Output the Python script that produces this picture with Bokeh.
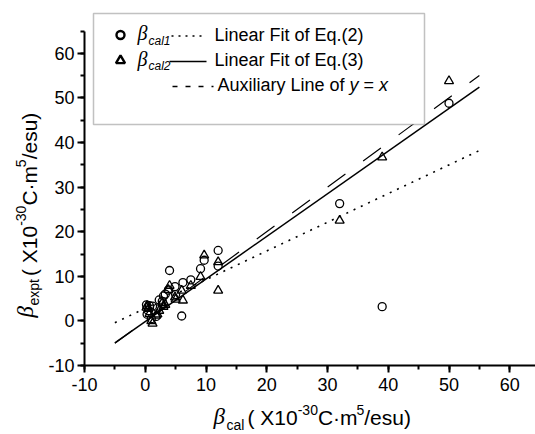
import math
from bokeh.plotting import figure
from bokeh.models import (Range1d, SingleIntervalTicker, Label, BoxAnnotation, Arrow,
                          CustomJSTickFormatter)
from bokeh.embed import file_html
from bokeh.resources import INLINE

# ---------------- data ----------------
x_vals = [50, 39, 32, 12, 12, 9.7, 9.1, 7.5, 6.2, 6.0, 5.0, 4.9, 4.0, 3.8,
          3.3, 3.0, 2.8, 2.3, 2.0, 1.8, 1.2, 1.0, 0.7, 0.5, 0.3, 0.2]
cal1_y = [48.8, 3.2, 26.3, 15.8, 12.3, 13.6, 11.7, 9.2, 8.6, 1.1, 5.9, 7.7, 11.3, 6.9,
          6.0, 5.6, 4.4, 4.7, 2.9, 1.0, 3.3, 0.5, 3.4, 2.3, 1.5, 3.6]
cal2_y = [53.8, 36.7, 22.5, 13.2, 6.8, 14.7, 9.9, 7.9, 4.6, 6.8, 4.8, 5.3, 7.9, 7.0,
          3.6, 3.2, 4.0, 2.3, 1.5, 1.2, -0.6, 0.0, 1.6, 2.7, 3.4, 3.0]
fit_x = [-5, 55]
fit2_y = [-0.4, 38.2]     # linear fit of Eq.(2)
fit3_y = [-4.95, 52.4]    # linear fit of Eq.(3)
aux_y = [-5, 55]          # y = x
axis_min = -10
y_axis_max = 65
x_tick_step = 10
y_tick_step = 10

# ---------------- layout constants (pixels) ----------------
W_PX, H_PX = 535, 434
X0_PX, XS = 84, 6.075     # pixel of x=-10, pixels per unit
Y0_PX, YS = 365, 4.46     # pixel of y=-10, pixels per unit

xr = Range1d(axis_min - X0_PX / XS, axis_min + (W_PX - X0_PX) / XS)
yr = Range1d(axis_min - (H_PX - Y0_PX) / YS, axis_min + Y0_PX / YS)

p = figure(width=W_PX, height=H_PX, output_backend="svg", toolbar_location=None,
           x_range=xr, y_range=yr, min_border=0)
p.outline_line_color = None
p.grid.visible = False
p.background_fill_color = "white"
p.border_fill_color = "white"

fmt = CustomJSTickFormatter(code="return tick.toFixed(0);")
for ax in (p.xaxis[0], p.yaxis[0]):
    ax.fixed_location = axis_min
    ax.axis_line_width = 2
    ax.major_tick_line_width = 2
    ax.minor_tick_line_width = 2
    ax.major_tick_out = 7
    ax.major_tick_in = 0
    ax.minor_tick_out = 4
    ax.minor_tick_in = 0
    ax.major_label_text_font = "Liberation Sans"
    ax.major_label_text_font_size = "18px"
    ax.major_label_text_color = "black"
    ax.axis_line_color = "black"
    ax.major_tick_line_color = "black"
    ax.minor_tick_line_color = "black"
    ax.formatter = fmt

p.xaxis.ticker = SingleIntervalTicker(interval=x_tick_step, num_minor_ticks=2)
p.yaxis.ticker = SingleIntervalTicker(interval=y_tick_step, num_minor_ticks=2)
p.xaxis.bounds = (axis_min, xr.end)
p.yaxis.bounds = (axis_min, y_axis_max)
p.xaxis.major_label_standoff = 5
p.yaxis.major_label_standoff = 3

# ---------------- lines & points ----------------
p.line(fit_x, aux_y, line_color="black", line_width=1.2, line_dash="22 22")
p.line(fit_x, fit2_y, line_color="black", line_width=1.6, line_dash="2 6")
p.line(fit_x, fit3_y, line_color="black", line_width=1.5)

p.scatter(x_vals, cal1_y, marker="circle", size=8, fill_color=None,
          line_color="black", line_width=1.3)
p.scatter(x_vals, cal2_y, marker="triangle", size=9, fill_color=None,
          line_color="black", line_width=1.3)


# ---------------- helpers for text placement ----------------
def sx(px):
    return px


def sy(py):
    return H_PX - py


def dx(px):
    return xr.start + px / XS


def dy(py):
    return yr.end - py / YS


W = {' ': 278, '(': 333, ')': 333, 'X': 667, '1': 556, '0': 556, '-': 333, '3': 556,
     'C': 722, '·': 278, 'm': 833, '5': 556, '/': 278, 'e': 556, 's': 500, 'u': 556,
     'c': 500, 'a': 556, 'l': 222, 'x': 500, 'p': 556, 't': 278, '=': 584, 'y': 500,
     'A': 667, 'i': 222, 'r': 333, 'L': 556, 'n': 556, 'o': 556, 'f': 278}


def tw(s, size):
    return sum(W.get(c, 556) for c in s) / 1000.0 * size


BASE_FIX = 0.35   # measured shift of the drawn baseline, in em


def lab(text, px, py, size, font="Liberation Sans", style="normal", angle=0):
    # (px, py) is the wanted baseline start; move the anchor along the text's "up"
    k = BASE_FIX * size
    ax_ = px - k * math.sin(angle)
    ay_ = py - k * math.cos(angle)
    p.add_layout(Label(x=sx(ax_), y=sy(ay_), x_units="screen", y_units="screen",
                       text=text, text_font=font, text_font_size=f"{size}px",
                       text_font_style=style, text_color="black", angle=angle,
                       text_align="left", text_baseline="alphabetic"))


MAIN, SUP = 21, 14
unit_parts = [("(", MAIN), ("X10", MAIN), ("-30", SUP), ("C·m", MAIN), ("5", SUP), ("/esu)", MAIN)]

# ---------------- x axis label ----------------
base = 424
lab("β", 213, base, 23, font="Liberation Serif", style="italic")
lab("cal", 226, base + 5, 14)
cx = 247
for txt, sz in unit_parts:
    lab(txt, cx, base if sz == MAIN else base - 10, sz)
    cx += tw(txt, sz) + (tw(" ", MAIN) if txt == "(" else 0)

# ---------------- y axis label (rotated) ----------------
ang = math.pi / 2
bxl = 36
cy = 317
lab("β", bxl - 3, cy, 23, font="Liberation Serif", style="italic", angle=ang)
cy -= 12
lab("expt", bxl + 2, cy, 14, angle=ang)
cy -= tw("expt", 14) + 3
for txt, sz in unit_parts:
    lab(txt, bxl if sz == MAIN else bxl - 11, cy, sz, angle=ang)
    cy -= tw(txt, sz) + (tw(" ", MAIN) if txt == "(" else 0)

# ---------------- legend ----------------
p.add_layout(BoxAnnotation(left=sx(93), right=sx(424), top=sy(13), bottom=sy(124),
                           left_units="screen", right_units="screen",
                           top_units="screen", bottom_units="screen",
                           fill_color="white", fill_alpha=1.0,
                           line_color="#333333", line_width=1.5))

rows = [34.5, 60, 85]
leg_c = p.scatter([dx(120)], [dy(rows[0])], marker="circle", size=8, fill_color=None,
                  line_color="black", line_width=2.4)
leg_t = p.scatter([dx(120)], [dy(rows[1])], marker="triangle", size=9, fill_color=None,
                  line_color="black", line_width=2.4)
leg_c.level = "overlay"
leg_t.level = "overlay"

lab("β", 137, rows[0] + 5, 20, font="Liberation Serif", style="italic")
lab("cal1", 148, rows[0] + 10, 12, style="italic")
lab("β", 137, rows[1] + 5, 20, font="Liberation Serif", style="italic")
lab("cal2", 148, rows[1] + 10, 12, style="italic")


def seg(x0, x1, y, dash, width):
    p.add_layout(Arrow(x_start=sx(x0), y_start=sy(y), x_end=sx(x1), y_end=sy(y),
                       start_units="screen", end_units="screen", end=None,
                       line_color="black", line_width=width, line_dash=dash))


seg(171, 206, rows[0] + 1, "2 5", 1.6)
seg(169, 206, rows[1] + 1, "solid", 1.5)
seg(172, 213, rows[2] + 1, "5 8", 1.3)

tb = 6
lab("Linear Fit of Eq.(2)", 214, rows[0] + tb, 18)
lab("Linear Fit of Eq.(3)", 214, rows[1] + tb, 18)
tx = 217
lab("Auxiliary Line of", tx, rows[2] + tb, 18)
tx += tw("Auxiliary Line of ", 18)
lab("y", tx, rows[2] + tb, 18, style="italic")
tx += tw("y ", 18)
lab("=", tx, rows[2] + tb, 18)
tx += tw("= ", 18)
lab("x", tx, rows[2] + tb, 18, style="italic")

open("out.html", "w").write(file_html(p, INLINE))
